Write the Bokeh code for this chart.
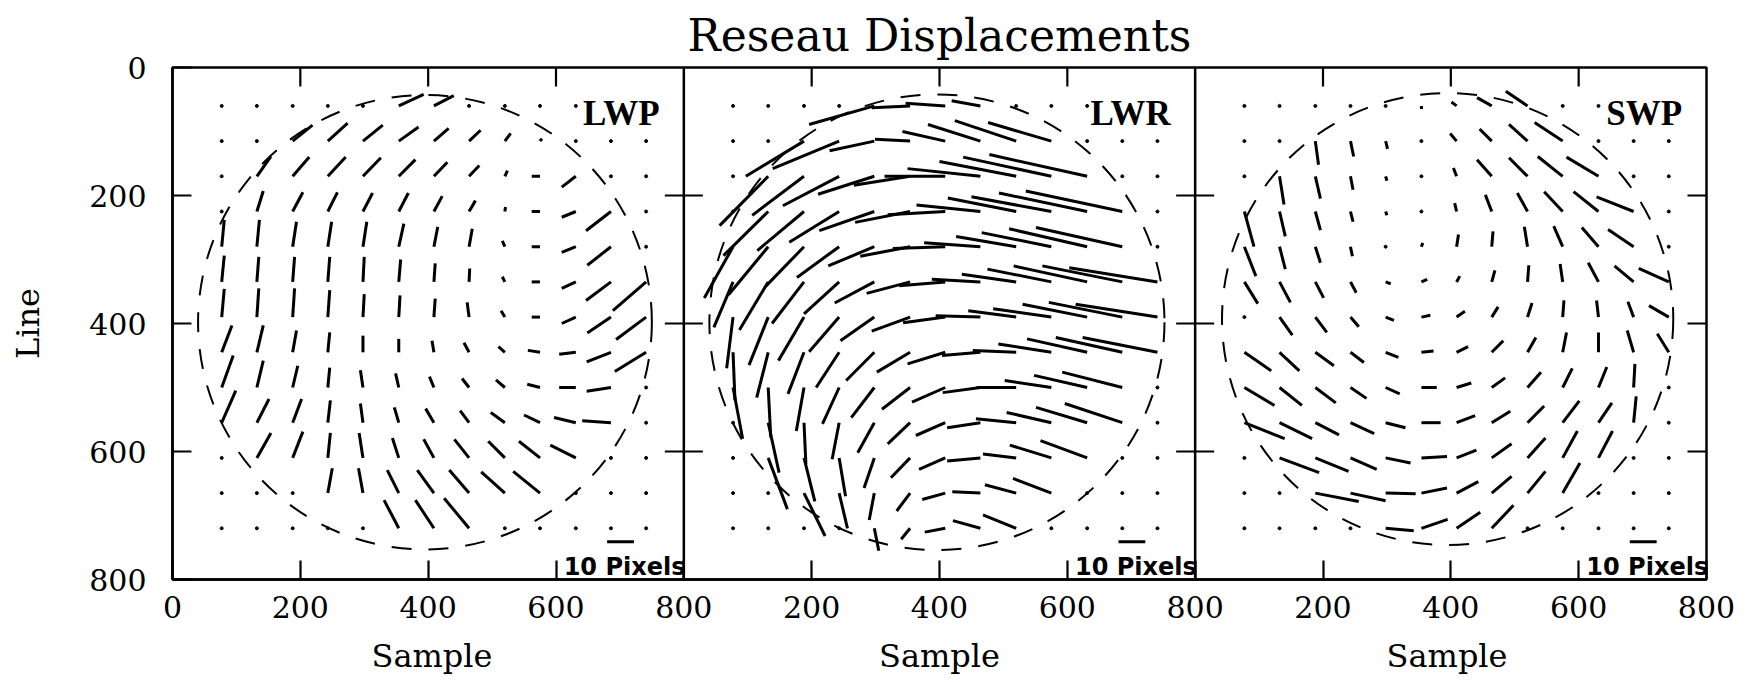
from bokeh.plotting import figure
from bokeh.models import Range1d, LinearAxis, FixedTicker, Span, ColumnDataSource
from bokeh.core.properties import value
from bokeh.embed import file_html
from bokeh.resources import INLINE

# ---------------- data ----------------
# nominal reseau grid (Sample, Line)
XS = [77, 132, 188, 243, 298, 354, 409, 464, 520, 575, 631, 686, 741]
YS = [60, 115, 170, 225, 280, 335, 390, 445, 500, 555, 610, 665, 720]
TICKS = [0, 200, 400, 600, 800]
PANELS = ["LWP", "LWR", "SWP"]

N = None   # reseau outside field: dot
H = False  # hidden under panel label

# displacement vectors (dSample, dLine) drawn from each reseau, already scaled
LWP = [
    [N, N, N, N, N, (39, -18), (31, -16), N, N, N, N, H, H],
    [N, N, (31, -25), (31, -28), (31, -25), (31, -22), (23, -20), (18, -17), (9, -12), (3, -4), N, N, N],
    [N, (22, -31), (26, -30), (28, -30), (28, -29), (26, -26), (21, -22), (16, -17), (4, -9), (-13, 0), (-22, 17), N, N],
    [N, (10, -32), (16, -30), (15, -30), (15, -29), (15, -29), (13, -24), (10, -17), (1, -7), (-13, 0), (-22, 9), (-39, 30), N],
    [(4, -42), (4, -42), (6, -39), (6, -39), (6, -39), (8, -36), (6, -31), (5, -28), (-4, -9), (-13, 0), (-22, 9), (-37, 29), N],
    [(4, -41), (3, -39), (3, -39), (3, -39), (2, -39), (3, -35), (2, -29), (1, -21), (-4, -8), (-13, 0), (-22, 10), (-39, 29), (-52, 45)],
    [(4, -44), (3, -45), (3, -45), (3, -42), (2, -36), (2, -34), (2, -29), (-3, -23), (-6, -10), (-13, 0), (-22, 10), (-37, 25), (-47, 35)],
    [(16, -42), (10, -42), (6, -34), (3, -31), (0, -26), (0, -21), (-3, -18), (-8, -15), (-10, -9), (-19, -3), (-26, 3), (-38, 15), (-49, 30)],
    [(18, -50), (10, -42), (8, -34), (3, -31), (-4, -27), (-5, -22), (-7, -17), (-11, -14), (-14, -12), (-20, -5), (-26, 0), (-38, 6), N],
    [(22, -50), (19, -37), (14, -37), (4, -35), (-4, -30), (-7, -24), (-13, -22), (-14, -19), (-22, -16), (-25, -12), (-34, -8), (-45, -3), N],
    [N, (22, -39), (16, -41), (4, -39), (-6, -39), (-10, -31), (-16, -29), (-23, -29), (-26, -26), (-33, -26), (-40, -20), N, N],
    [N, N, N, (7, -39), (-7, -39), (-18, -36), (-26, -36), (-31, -36), (-37, -33), (-42, -34), N, N, N],
    [N, N, N, N, N, (-23, -44), (-29, -44), (-39, -47), N, N, N, N, N],
]

LWR = [
    [N, N, N, N, (-102, 29), (-60, 3), (-62, -4), (-45, -8), N, N, N, H, H],
    [N, N, (-91, 55), (-104, 43), (-70, 15), (-55, -3), (-67, -15), (-82, -26), (-96, -32), (-99, -29), N, N, N],
    [N, (-76, 77), (-81, 61), (-88, 46), (-88, 28), (-88, 14), (-95, 0), (-114, -12), (-120, -23), (-138, -30), (-153, -34), N, N],
    [N, (-70, 69), (-73, 61), (-78, 48), (-86, 30), (-86, 17), (-90, 5), (-100, -10), (-107, -21), (-125, -23), (-138, -29), (-151, -32), N],
    [(-45, 80), (-62, 75), (-60, 62), (-66, 48), (-72, 30), (-78, 15), (-82, 3), (-88, -6), (-94, -16), (-109, -22), (-122, -28), (-135, -30), N],
    [(-30, 71), (-45, 75), (-50, 65), (-55, 50), (-62, 33), (-68, 18), (-72, 6), (-76, -4), (-85, -12), (-100, -20), (-115, -25), (-125, -25), (-138, -22)],
    [(-10, 80), (-30, 75), (-40, 68), (-47, 54), (-53, 37), (-60, 22), (-66, 9), (-70, -2), (-75, -10), (-91, -13), (-101, -20), (-115, -23), (-128, -20)],
    [(3, 75), (-18, 71), (-25, 65), (-36, 55), (-44, 44), (-52, 31), (-59, 18), (-60, 5), (-68, -3), (-83, -13), (-94, -21), (-104, -23), (-117, -23)],
    [(15, 80), (4, 78), (-12, 68), (-26, 57), (-36, 47), (-44, 34), (-52, 23), (-59, 8), (-62, 0), (-73, -11), (-83, -19), (-94, -24), N],
    [N, (17, 78), (3, 65), (-11, 57), (-26, 47), (-35, 33), (-46, 20), (-52, 8), (-63, -6), (-70, -16), (-80, -24), (-90, -30), N],
    [N, (30, 80), (17, 68), (10, 60), (-16, 47), (-30, 31), (-41, 18), (-52, 5), (-52, -6), (-65, -20), (-73, -27), N, N],
    [N, N, (33, 67), (13, 55), (-8, 42), (-21, 28), (-36, 10), (-44, -2), (-49, -13), (-60, -23), N, N, N],
    [N, N, N, N, (7, 35), (-14, 17), (-32, 6), (-43, -12), (-52, -21), N, N, N, N],
]

SWP = [
    [N, N, N, N, N, (0, 5), (-8, -6), (-23, -13), (-34, -23), N, N, H, H],
    [N, N, (5, 37), (5, 24), (3, 12), N, (-10, -12), (-19, -19), (-29, -26), (-44, -29), N, N, N],
    [N, (7, 44), (8, 35), (4, 21), (2, 7), N, (-5, -13), (-23, -26), (-29, -29), (-39, -31), (-50, -30), N, N],
    [(15, 55), (9, 39), (8, 29), (4, 16), (2, 6), N, (-3, -13), (-10, -26), (-16, -29), (-29, -31), (-39, -31), (-58, -23), N],
    [(18, 46), (9, 35), (8, 25), (3, 15), N, (2, -6), (3, -19), (2, -24), (-5, -31), (-14, -32), (-26, -30), (-40, -27), N],
    [(21, 34), (17, 32), (13, 25), (9, 17), (8, 3), (9, -4), (5, -9), (5, -18), (2, -26), (-4, -28), (-16, -30), (-30, -25), (-47, -21)],
    [N, (20, 28), (18, 24), (13, 15), (13, 5), (14, -3), (13, -9), (10, -16), (7, -22), (2, -26), (-3, -26), (-9, -24), (-31, -18)],
    [(42, 29), (31, 29), (29, 21), (21, 16), (20, 8), (19, -2), (18, -9), (18, -18), (13, -23), (6, -31), (0, -31), (-10, -34), (-18, -29)],
    [(47, 28), (35, 28), (32, 24), (25, 17), (22, 10), (24, 0), (23, -7), (21, -15), (21, -24), (15, -30), (13, -32), (2, -37), N],
    [(63, 25), (51, 25), (37, 19), (37, 17), (31, 8), (30, 0), (29, -11), (29, -18), (26, -26), (26, -34), (21, -31), (4, -41), N],
    [N, (62, 23), (52, 21), (41, 18), (39, 8), (40, -2), (31, -12), (31, -22), (28, -31), (23, -42), (22, -42), N, N],
    [N, N, (68, 13), (55, 12), (47, 1), (40, -8), (34, -18), (31, -26), (28, -34), (27, -47), N, N, N],
    [N, N, N, N, (44, 4), (41, -14), (37, -25), (34, -36), N, N, N, N, N],
]
VECTORS = [LWP, LWR, SWP]

# camera field boundary (centre sample, centre line, radius)
CIRCLE_CX = [395, 396, 395]
CIRCLE_CY = [398, 398, 393]
CIRCLE_R = [355, 356, 353]

SCALE_PIXELS = 10
UNITS_PER_PIXEL = 4.2
SCALE_X0 = 680
SCALE_Y = 741

TITLE = "Reseau Displacements"
X_LABEL = "Sample"
Y_LABEL = "Line"

# ---------------- figure ----------------
PANEL_W = 800
FRAME_W, FRAME_H = 1534, 512
XMAX = PANEL_W * len(PANELS)
YMAX = 800

p = figure(frame_width=FRAME_W, frame_height=FRAME_H,
           x_range=Range1d(0, XMAX), y_range=Range1d(YMAX, 0),
           output_backend="svg", toolbar_location=None,
           x_axis_location=None, y_axis_location=None,
           min_border_left=172, min_border_right=34, min_border_top=67, min_border_bottom=95,
           outline_line_color="black", outline_line_width=2.5,
           background_fill_color="white", border_fill_color="white")
p.grid.visible = False

p.title.text = TITLE
p.title.align = "center"
p.title.text_font = "DejaVu Serif"
p.title.text_font_size = "44px"
p.title.text_font_style = "normal"
p.title.text_color = "black"
p.title.standoff = 14

x_ticks, x_labels = [], {}
for k in range(len(PANELS)):
    for t in TICKS:
        if t == 0 and k > 0:
            continue
        x_ticks.append(PANEL_W * k + t)
        x_labels[PANEL_W * k + t] = str(t)

common = dict(major_tick_in=19, major_tick_out=0, minor_tick_in=0, minor_tick_out=0,
              major_tick_line_width=2.2, major_tick_line_color="black",
              axis_line_width=2.5, axis_line_color="black",
              major_label_text_font="DejaVu Serif", major_label_text_font_size="30px",
              major_label_text_color="black",
              axis_label_text_font="DejaVu Serif", axis_label_text_font_size="32px",
              axis_label_text_font_style="normal", axis_label_text_color="black")

left = LinearAxis(ticker=FixedTicker(ticks=TICKS), major_label_standoff=26,
                  axis_label=Y_LABEL, axis_label_standoff=39, **common)
p.add_layout(left, "left")

# one "Sample" under each panel, spaced by non-breaking spaces
gap = "\u00a0" * 38
bottom = LinearAxis(ticker=FixedTicker(ticks=x_ticks), major_label_overrides=x_labels,
                    major_label_standoff=16, axis_label=gap.join([X_LABEL] * len(PANELS)),
                    axis_label_standoff=16, **common)
p.add_layout(bottom, "below")

# inward ticks on the top and right edges and crossing ticks at the panel dividers
tlx = 19 * XMAX / FRAME_W
tly = 19 * YMAX / FRAME_H
top_x = [t for t in x_ticks if t % PANEL_W != 0]
p.segment(x0=top_x, y0=[0] * len(top_x), x1=top_x, y1=[tly] * len(top_x),
          line_color="black", line_width=2.2)
inner_y = TICKS[1:-1]
p.segment(x0=[XMAX - tlx] * len(inner_y), y0=inner_y, x1=[XMAX] * len(inner_y), y1=inner_y,
          line_color="black", line_width=2.2)
dx0, dx1, dy = [], [], []
for k in range(1, len(PANELS)):
    p.add_layout(Span(location=PANEL_W * k, dimension="height", line_color="black", line_width=2.5))
    for t in inner_y:
        dx0.append(PANEL_W * k - tlx)
        dx1.append(PANEL_W * k + tlx)
        dy.append(t)
p.segment(x0=dx0, y0=dy, x1=dx1, y1=dy, line_color="black", line_width=2.2)

for k, name in enumerate(PANELS):
    off = PANEL_W * k
    seg = dict(x0=[], y0=[], x1=[], y1=[])
    dots = dict(x=[], y=[])
    for j, rowv in enumerate(VECTORS[k]):
        for i, v in enumerate(rowv):
            if v is None:
                dots["x"].append(XS[i] + off)
                dots["y"].append(YS[j])
            elif v is False:
                continue
            else:
                seg["x0"].append(XS[i] + off)
                seg["y0"].append(YS[j])
                seg["x1"].append(XS[i] + off + v[0])
                seg["y1"].append(YS[j] + v[1])
    p.scatter("x", "y", source=ColumnDataSource(dots), size=3, color="black")
    p.ellipse(x=[CIRCLE_CX[k] + off], y=[CIRCLE_CY[k]], width=[2 * CIRCLE_R[k]], height=[2 * CIRCLE_R[k]],
              fill_color=None, line_color="black", line_width=2, line_dash="20 17")
    p.segment("x0", "y0", "x1", "y1", source=ColumnDataSource(seg), line_color="black", line_width=3)
    # scale bar
    p.segment(x0=[SCALE_X0 + off], y0=[SCALE_Y], x1=[SCALE_X0 + off + SCALE_PIXELS * UNITS_PER_PIXEL],
              y1=[SCALE_Y], line_color="black", line_width=3)
    p.text(x=[612 + off], y=[781], text=["%d Pixels" % SCALE_PIXELS],
           text_font=value("DejaVu Sans"), text_font_style=value("bold"), text_font_size=value("24px"),
           text_align=value("left"), text_baseline=value("alphabetic"), text_color="black")
    p.text(x=[762 + off], y=[72], text=[name],
           text_font=value("Liberation Serif"), text_font_style=value("bold"), text_font_size=value("35px"),
           text_align=value("right"), text_baseline=value("alphabetic"), text_color="black")

open("out.html", "w").write(file_html(p, INLINE))
